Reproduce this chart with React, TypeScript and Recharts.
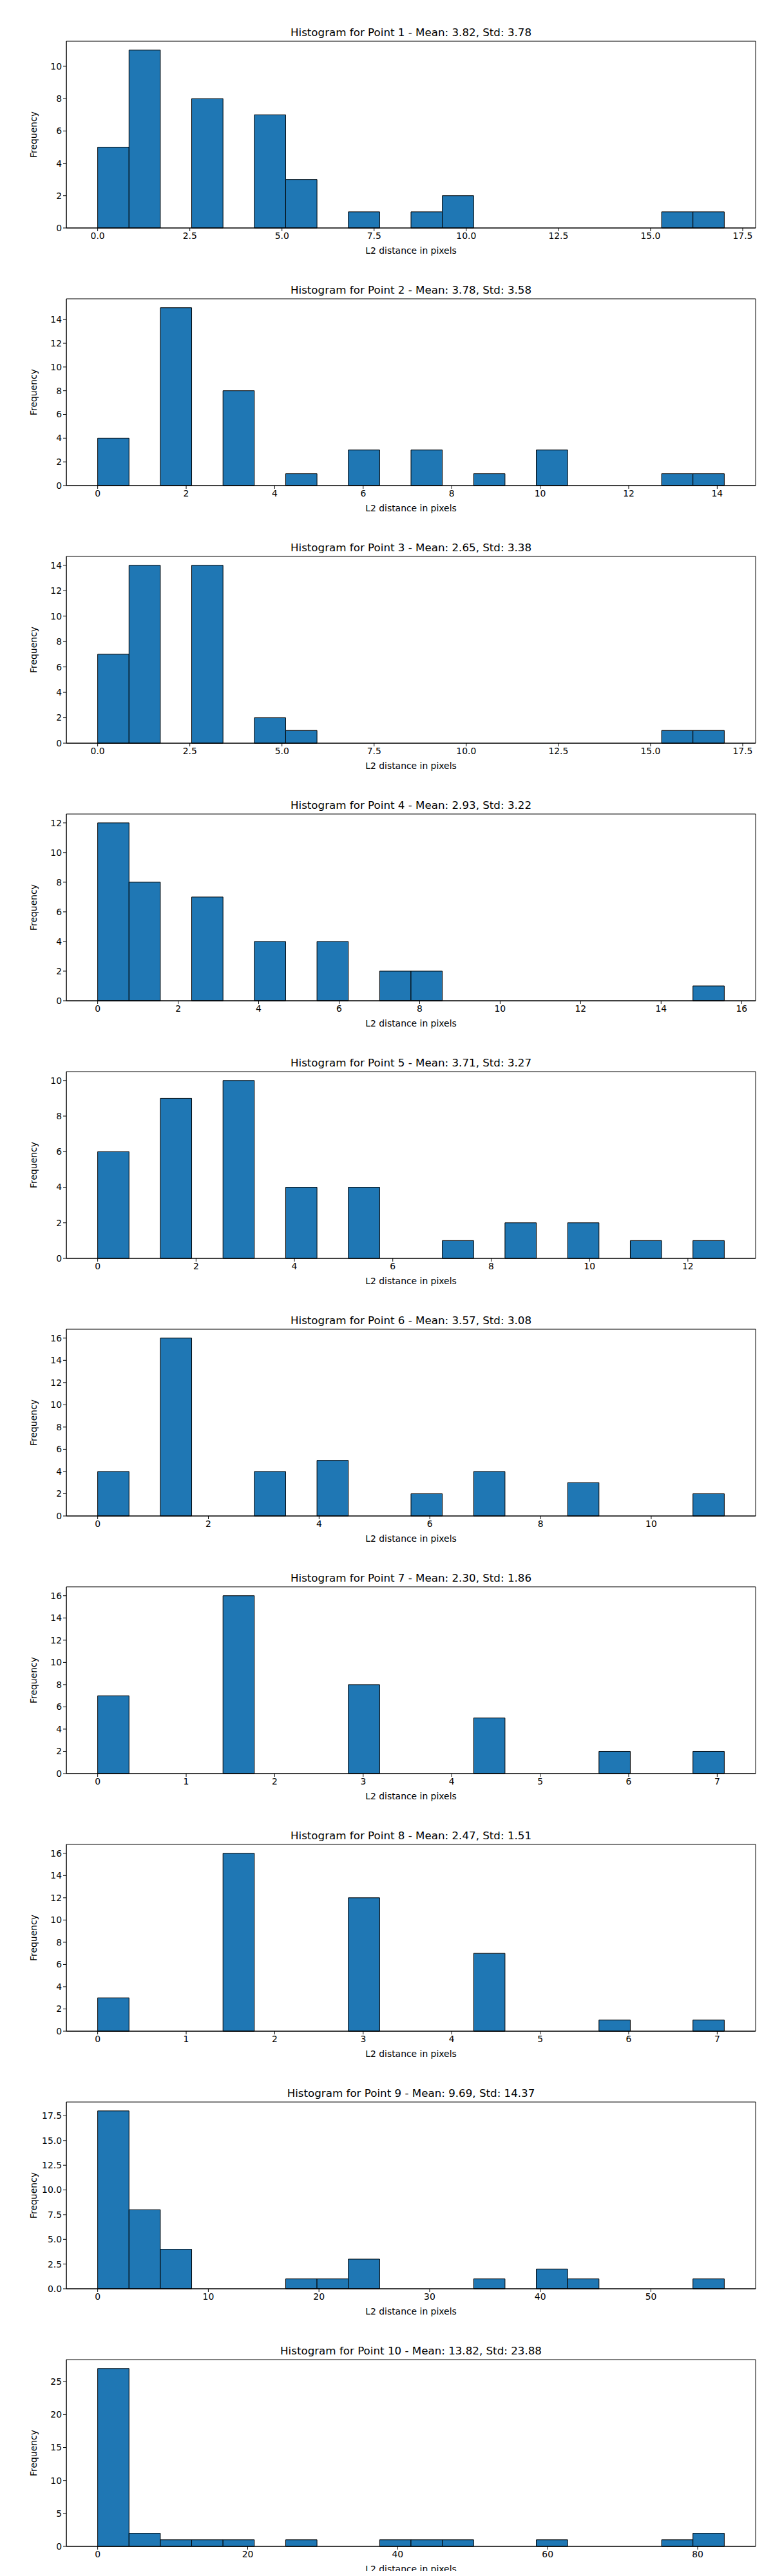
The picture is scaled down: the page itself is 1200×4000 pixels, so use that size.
import { ComposedChart, XAxis, YAxis, ReferenceArea, Line } from 'recharts';

// bin counts (20 equal bins from 0 to the max distance of each point)
const counts1 = [5, 11, 0, 8, 0, 7, 3, 0, 1, 0, 1, 2, 0, 0, 0, 0, 0, 0, 1, 1];
const counts2 = [4, 0, 15, 0, 8, 0, 1, 0, 3, 0, 3, 0, 1, 0, 3, 0, 0, 0, 1, 1];
const counts3 = [7, 14, 0, 14, 0, 2, 1, 0, 0, 0, 0, 0, 0, 0, 0, 0, 0, 0, 1, 1];
const counts4 = [12, 8, 0, 7, 0, 4, 0, 4, 0, 2, 2, 0, 0, 0, 0, 0, 0, 0, 0, 1];
const counts5 = [6, 0, 9, 0, 10, 0, 4, 0, 4, 0, 0, 1, 0, 2, 0, 2, 0, 1, 0, 1];
const counts6 = [4, 0, 16, 0, 0, 4, 0, 5, 0, 0, 2, 0, 4, 0, 0, 3, 0, 0, 0, 2];
const counts7 = [7, 0, 0, 0, 16, 0, 0, 0, 8, 0, 0, 0, 5, 0, 0, 0, 2, 0, 0, 2];
const counts8 = [3, 0, 0, 0, 16, 0, 0, 0, 12, 0, 0, 0, 7, 0, 0, 0, 1, 0, 0, 1];
const counts9 = [18, 8, 4, 0, 0, 0, 1, 1, 3, 0, 0, 0, 1, 0, 2, 1, 0, 0, 0, 1];
const counts10 = [27, 2, 1, 1, 1, 0, 1, 0, 0, 1, 1, 1, 0, 0, 1, 0, 0, 0, 1, 2];

const maxDist = [17.0, 14.16, 17.0, 15.57, 12.74, 11.32, 7.08, 7.08, 56.63, 83.55];
const means = ['3.82', '3.78', '2.65', '2.93', '3.71', '3.57', '2.30', '2.47', '9.69', '13.82'];
const stds = ['3.78', '3.58', '3.38', '3.22', '3.27', '3.08', '1.86', '1.51', '14.37', '23.88'];

const xTicks = [
    [0, 2.5, 5, 7.5, 10, 12.5, 15, 17.5],
    [0, 2, 4, 6, 8, 10, 12, 14],
    [0, 2.5, 5, 7.5, 10, 12.5, 15, 17.5],
    [0, 2, 4, 6, 8, 10, 12, 14, 16],
    [0, 2, 4, 6, 8, 10, 12],
    [0, 2, 4, 6, 8, 10],
    [0, 1, 2, 3, 4, 5, 6, 7],
    [0, 1, 2, 3, 4, 5, 6, 7],
    [0, 10, 20, 30, 40, 50],
    [0, 20, 40, 60, 80],
];
const xDecimals = [1, 0, 1, 0, 0, 0, 0, 0, 0, 0];

const yTicks = [
    [0, 2, 4, 6, 8, 10],
    [0, 2, 4, 6, 8, 10, 12, 14],
    [0, 2, 4, 6, 8, 10, 12, 14],
    [0, 2, 4, 6, 8, 10, 12],
    [0, 2, 4, 6, 8, 10],
    [0, 2, 4, 6, 8, 10, 12, 14, 16],
    [0, 2, 4, 6, 8, 10, 12, 14, 16],
    [0, 2, 4, 6, 8, 10, 12, 14, 16],
    [0, 2.5, 5, 7.5, 10, 12.5, 15, 17.5],
    [0, 5, 10, 15, 20, 25],
];
const yDecimals = [0, 0, 0, 0, 0, 0, 0, 0, 1, 0];

const allCounts = [counts1, counts2, counts3, counts4, counts5, counts6, counts7, counts8, counts9, counts10];

const FONT = 'DejaVu Sans, sans-serif';

function Histogram({ idx }: { idx: number }) {
    const counts = allCounts[idx];
    const max = maxDist[idx];
    const w = max / counts.length;
    const bins = counts.map((c, i) => ({ x0: i * w, x1: (i + 1) * w, count: c }));
    const topCount = Math.max(...counts);
    const xd = xDecimals[idx];
    const yd = yDecimals[idx];
    const xDom: [number, number] = [-0.05 * max, 1.05 * max];
    const yDom: [number, number] = [0, 1.05 * topCount];

    return (
        <div style={{ position: 'relative', width: 1200, height: 400 }}>
            <div style={{
                position: 'absolute', top: 40, left: 103, width: 1070, textAlign: 'center',
                fontFamily: FONT, fontSize: 16.7, color: '#000',
            }}>
                Histogram for Point {idx + 1} - Mean: {means[idx]}, Std: {stds[idx]}
            </div>
            <ComposedChart
                width={1200}
                height={400}
                data={bins}
                margin={{ top: 64, right: 27, bottom: 0, left: 0 }}
            >
                <XAxis
                    type="number"
                    dataKey="x0"
                    domain={xDom}
                    ticks={xTicks[idx]}
                    tickFormatter={(v: number) => v.toFixed(xd)}
                    interval={0}
                    allowDataOverflow
                    height={46}
                    tickSize={5}
                    tick={{ fontSize: 13.9, fill: '#000', fontFamily: FONT }}
                    stroke="#000"
                    label={{ value: 'L2 distance in pixels', position: 'insideBottom', offset: 6, fill: '#000', fontSize: 13.9, fontFamily: FONT }}
                />
                <YAxis
                    type="number"
                    domain={yDom}
                    ticks={yTicks[idx]}
                    tickFormatter={(v: number) => v.toFixed(yd)}
                    interval={0}
                    allowDataOverflow
                    width={103}
                    tickSize={5}
                    tick={{ fontSize: 13.9, fill: '#000', fontFamily: FONT }}
                    stroke="#000"
                    label={{ value: 'Frequency', angle: -90, position: 'insideLeft', offset: 52, fill: '#000', fontSize: 13.9, fontFamily: FONT, style: { textAnchor: 'middle' } }}
                />
                <Line dataKey="count" stroke="none" dot={false} isAnimationActive={false} />
                {bins.filter(b => b.count > 0).map((b, i) => (
                    <ReferenceArea
                        key={i}
                        x1={b.x0}
                        x2={b.x1}
                        y1={0}
                        y2={b.count}
                        fill="#1f77b4"
                        fillOpacity={1}
                        stroke="#000"
                        strokeWidth={1}
                        ifOverflow="visible"
                    />
                ))}
                {/* axes frame */}
                <ReferenceArea
                    x1={xDom[0]}
                    x2={xDom[1]}
                    y1={yDom[0]}
                    y2={yDom[1]}
                    fill="none"
                    stroke="#000"
                    strokeWidth={1}
                    ifOverflow="visible"
                />
            </ComposedChart>
        </div>
    );
}

export default function App() {
    return (
        <div style={{ width: 1200, margin: -8, background: '#fff' }}>
            {allCounts.map((_, i) => <Histogram key={i} idx={i} />)}
        </div>
    );
}
